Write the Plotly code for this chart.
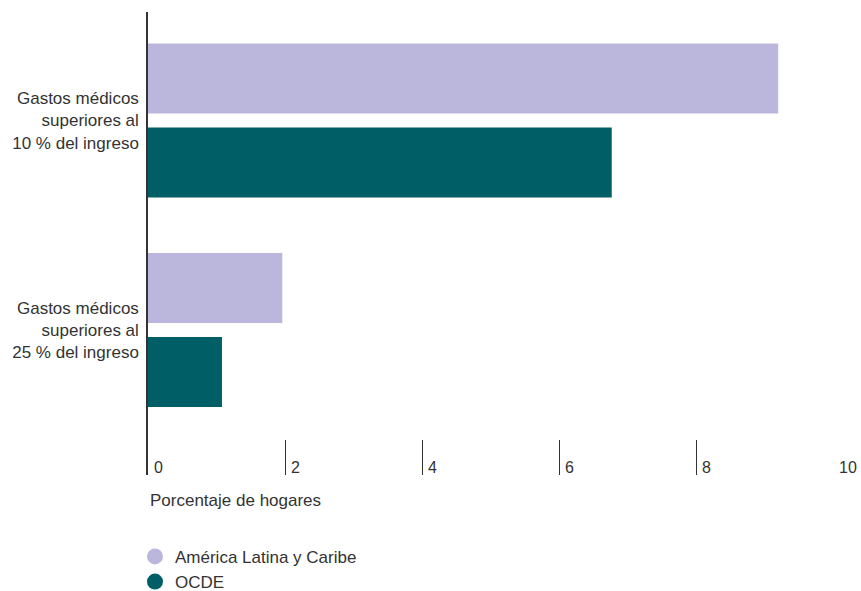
import plotly.graph_objects as go

# Categories (multi-line labels) and series values, percent of households
categories = [
    "Gastos médicos<br>superiores al<br>10 % del ingreso",
    "Gastos médicos<br>superiores al<br>25 % del ingreso",
]
alc_values = [9.2, 1.96]
ocde_values = [6.77, 1.08]
series_names = ["América Latina y Caribe", "OCDE"]
x_ticks = [0, 2, 4, 6, 8, 10]

colors = ["#bbb7dc", "#005f66"]
font_family = "Liberation Sans, Arial, sans-serif"
text_color = "#333333"

fig = go.Figure()
for name, vals, col in zip(series_names, [alc_values, ocde_values], colors):
    fig.add_trace(go.Bar(
        y=categories, x=vals, orientation="h", name=name,
        marker=dict(color=col, line=dict(width=0)),
        showlegend=False, hoverinfo="x+name",
    ))
    # circular legend entries
    fig.add_trace(go.Scatter(
        x=[None], y=[None], mode="markers", name=name,
        marker=dict(symbol="circle", size=16, color=col),
        showlegend=True,
    ))

# x tick labels sit to the right of each tick mark, just above the baseline
tick_annotations = [
    dict(text=str(t), xref="x", yref="paper", x=t, y=0,
         xanchor="left", yanchor="bottom", xshift=4, yshift=-3,
         showarrow=False, font=dict(size=16, color=text_color))
    for t in x_ticks
]

fig.update_layout(
    width=861, height=591,
    margin=dict(l=148, r=28, t=12, b=116, autoexpand=False),
    paper_bgcolor="white", plot_bgcolor="white",
    font=dict(family=font_family, size=17, color=text_color),
    barmode="group", bargap=0.198, bargroupgap=0.167,
    legend=dict(
        orientation="v", x=-0.019, xanchor="left", y=-0.138, yanchor="top",
        font=dict(size=17, color=text_color), itemclick=False,
        tracegroupgap=0, bgcolor="rgba(0,0,0,0)",
    ),
    xaxis=dict(
        range=[0, 10], tickvals=x_ticks, showticklabels=False,
        ticks="inside", ticklen=35, tickwidth=1, tickcolor=text_color,
        showgrid=False, zeroline=False, showline=False, fixedrange=True,
    ),
    yaxis=dict(
        type="category", categoryorder="array", categoryarray=categories,
        range=[1.692, -0.518], showline=True, linecolor=text_color,
        linewidth=1.5, ticks="", showgrid=False, zeroline=False,
        tickfont=dict(size=17, color=text_color), ticklabelstandoff=4,
        fixedrange=True,
    ),
    annotations=tick_annotations + [dict(
        text="Porcentaje de hogares", xref="paper", yref="paper",
        x=0, y=-0.056, xanchor="left", yanchor="middle", showarrow=False,
        font=dict(size=17, color=text_color),
    )],
)

fig.write_html("out.html")
